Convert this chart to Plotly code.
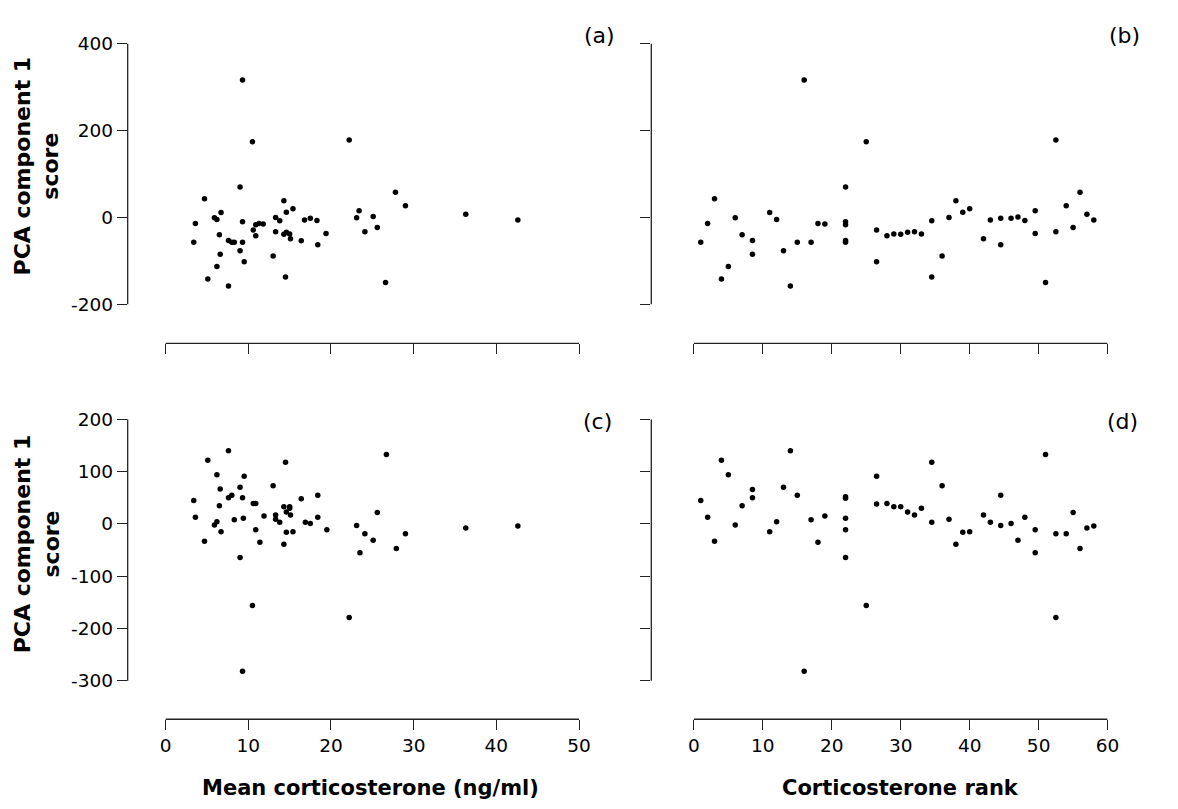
import plotly.graph_objects as go

# ---------------- data ----------------
cort_a = [9.3, 10.5, 22.2, 9.0, 4.7, 27.8, 29.0, 36.3, 42.6, 14.3, 15.4, 14.6, 6.7, 5.9, 6.2, 3.6, 9.3,
          10.9, 11.3, 11.8, 13.3, 13.8, 16.8, 17.5, 18.3, 23.1, 23.4, 25.1, 25.6, 24.1, 19.4, 18.4, 16.4,
          15.1, 15.0, 14.6, 14.3, 13.3, 13.0, 14.5, 26.6, 7.6, 5.1, 6.2, 6.6, 3.4, 6.5, 7.6, 8.0, 8.3,
          9.3, 9.0, 9.5, 10.6, 10.9]
pca_a = [316, 174, 178, 70, 43, 58, 27, 7, -6, 38, 20, 12, 11, -1, -5, -14, -10,
         -17, -14, -15, 0, -8, -6, -2, -7, -1, 15, 2, -23, -33, -37, -63, -54,
         -49, -38, -34, -39, -33, -89, -137, -150, -158, -142, -113, -85, -57, -40, -53, -57, -57,
         -57, -77, -102, -29, -42]

rank_b = [1, 2, 3, 4, 5, 6, 7, 8.5, 8.5, 11, 12, 13, 14, 15, 16, 17, 18, 19, 22, 22, 22, 22, 22, 25,
          26.5, 26.5, 28, 29, 30, 31, 32, 33, 34.5, 34.5, 36, 37, 38, 39, 40, 42, 43, 44.5, 44.5, 46,
          47, 48, 49.5, 49.5, 51, 52.5, 52.5, 54, 55, 56, 57, 58]
pca_b = [-57, -14, 43, -142, -113, -1, -40, -53, -85, 11, -5, -77, -158, -57, 316, -57, -14, -15,
         70, -10, -17, -53, -57, 174, -29, -102, -42, -38, -39, -34, -33, -38, -8, -137, -89, 0, 38,
         12, 20, -49, -6, -2, -63, -2, 1, -7, 15, -37, -150, 178, -33, 27, -23, 58, 7, -6]

cort_c = [7.6, 5.1, 14.5, 26.7, 6.2, 9.5, 13.0, 9.0, 6.6, 8.0, 7.6, 9.3, 18.4, 16.4, 3.4, 10.6, 10.9,
          6.5, 14.3, 15.0, 15.0, 25.6, 14.6, 13.3, 15.1, 11.9, 3.6, 9.4, 18.4, 13.3, 8.3, 13.8, 16.9,
          17.5, 6.2, 5.9, 23.1, 36.3, 42.6, 10.9, 6.7, 14.6, 15.4, 19.5, 24.1, 29.0, 25.1, 4.7, 11.4,
          14.3, 27.9, 23.5, 9.0, 10.5, 22.2, 9.3]
pca_c = [140, 122, 118, 133, 94, 91, 73, 70, 67, 55, 50, 50, 55, 48, 45, 39, 39,
         35, 33, 33, 30, 22, 23, 17, 17, 15, 13, 11, 13, 9, 8, 3, 3,
         1, 4, -2, -3, -8, -4, -11, -15, -16, -15, -11, -19, -19, -31, -33, -35,
         -39, -47, -55, -64, -156, -179, -282]

rank_d = [1, 2, 3, 4, 5, 6, 7, 8.5, 8.5, 11, 12, 13, 14, 15, 16, 17, 18, 19, 22, 22, 22, 22, 22, 25,
          26.5, 26.5, 28, 29, 30, 31, 32, 33, 34.5, 34.5, 36, 37, 38, 39, 40, 42, 43, 44.5, 44.5, 46,
          47, 48, 49.5, 49.5, 51, 52.5, 52.5, 54, 55, 56, 57, 58]
pca_d = [45, 13, -33, 122, 94, -2, 35, 66, 50, -15, 4, 70, 140, 55, -282, 8, -35, 15,
         49, 52, 11, -11, -64, -156, 91, 38, 39, 33, 33, 23, 17, 30, 118, 3, 73, 9, -39,
         -16, -15, 17, 3, 55, -3, 1, -31, 13, -11, -55, 133, -19, -179, -19, 22, -47, -8, -4]

y_title = "PCA component 1<br>score"
x_title_left = "Mean corticosterone (ng/ml)"
x_title_right = "Corticosterone rank"
panel_labels = ["(a)", "(b)", "(c)", "(d)"]

yticks_top = [-200, 0, 200, 400]
yticks_bot = [-300, -200, -100, 0, 100, 200]
xticks_left = [0, 10, 20, 30, 40, 50]
xticks_right = [0, 10, 20, 30, 40, 50, 60]

# ---------------- layout geometry (pixels) ----------------
W, H = 1178, 809
FONT = "DejaVu Sans, Verdana, sans-serif"
LINE_C = "#222222"


def fx(p):
    return p / W


def fy(p):
    return 1 - p / H


def labels(vals):
    return [str(v) for v in vals]  # plain hyphen minus, as in the original


fig = go.Figure()
mk = dict(color="black", size=5.5)
fig.add_trace(go.Scatter(x=cort_a, y=pca_a, mode="markers", marker=mk, xaxis="x", yaxis="y"))
fig.add_trace(go.Scatter(x=rank_b, y=pca_b, mode="markers", marker=mk, xaxis="x2", yaxis="y2"))
fig.add_trace(go.Scatter(x=cort_c, y=pca_c, mode="markers", marker=mk, xaxis="x3", yaxis="y3"))
fig.add_trace(go.Scatter(x=rank_d, y=pca_d, mode="markers", marker=mk, xaxis="x4", yaxis="y4"))

tickfont = dict(family=FONT, size=18.5, color="black")
common = dict(showgrid=False, zeroline=False, showline=False, ticks="outside", ticklen=10,
              tickwidth=1.3, tickcolor=LINE_C, tickfont=tickfont, fixedrange=True,
              tickmode="array")

left_dom = [fx(129), fx(585)]
right_dom = [fx(658), fx(1119)]
top_dom = [fy(337), fy(33)]
bot_dom = [fy(718), fy(414)]

top_range = [-290, 400]
bot_range = [-373.6, 200]
left_range = [-4.59, 50]
right_range = [-6.17, 60]

fig.update_layout(
    width=W, height=H,
    margin=dict(l=0, r=0, t=0, b=0),
    paper_bgcolor="white", plot_bgcolor="white",
    showlegend=False,
    xaxis=dict(common, domain=left_dom, range=left_range, tickvals=xticks_left,
               ticktext=labels(xticks_left), showticklabels=False, anchor="y"),
    yaxis=dict(common, domain=top_dom, range=top_range, tickvals=yticks_top,
               ticktext=labels(yticks_top), anchor="x"),
    xaxis2=dict(common, domain=right_dom, range=right_range, tickvals=xticks_right,
                ticktext=labels(xticks_right), showticklabels=False, anchor="y2"),
    yaxis2=dict(common, domain=top_dom, range=top_range, tickvals=yticks_top,
                ticktext=labels(yticks_top), showticklabels=False, anchor="x2"),
    xaxis3=dict(common, domain=left_dom, range=left_range, tickvals=xticks_left,
                ticktext=labels(xticks_left), anchor="y3"),
    yaxis3=dict(common, domain=bot_dom, range=bot_range, tickvals=yticks_bot,
                ticktext=labels(yticks_bot), anchor="x3"),
    xaxis4=dict(common, domain=right_dom, range=right_range, tickvals=xticks_right,
                ticktext=labels(xticks_right), anchor="y4"),
    yaxis4=dict(common, domain=bot_dom, range=bot_range, tickvals=yticks_bot,
                ticktext=labels(yticks_bot), showticklabels=False, anchor="x4"),
)

# axis lines (offset, Prism style)
shapes = []
for xa, ya, xt, yt in [("x", "y", xticks_left, yticks_top), ("x2", "y2", xticks_right, yticks_top),
                       ("x3", "y3", xticks_left, yticks_bot), ("x4", "y4", xticks_right, yticks_bot)]:
    shapes.append(dict(type="line", xref=xa, yref=ya + " domain", x0=xt[0], x1=xt[-1], y0=0, y1=0,
                       line=dict(color=LINE_C, width=1.3)))
    shapes.append(dict(type="line", xref=xa + " domain", yref=ya, x0=0, x1=0, y0=yt[0], y1=yt[-1],
                       line=dict(color=LINE_C, width=1.3)))
fig.update_layout(shapes=shapes)

ann = []
# panel labels
for lab, px, py in zip(panel_labels, [606, 1136, 604, 1134], [25, 25, 416, 416]):
    ann.append(dict(text=lab, x=fx(px), y=fy(py), xref="paper", yref="paper", showarrow=False,
                    xanchor="center", yanchor="middle", font=dict(family=FONT, size=22, color="black")))
# y titles
for py in [157, 540]:
    ann.append(dict(text="<b>" + y_title + "</b>", x=fx(37), y=fy(py), xref="paper", yref="paper",
                    showarrow=False, textangle=-90, xanchor="center", yanchor="middle",
                    font=dict(family=FONT, size=22, color="black")))
# x titles
for txt, px in [(x_title_left, 374), (x_title_right, 910)]:
    ann.append(dict(text="<b>" + txt + "</b>", x=fx(px), y=fy(788), xref="paper", yref="paper",
                    showarrow=False, xanchor="center", yanchor="middle",
                    font=dict(family=FONT, size=21, color="black")))
fig.update_layout(annotations=ann)

fig.write_html("out.html", config={"displayModeBar": False},
               post_script="document.body.style.margin='0px';")
